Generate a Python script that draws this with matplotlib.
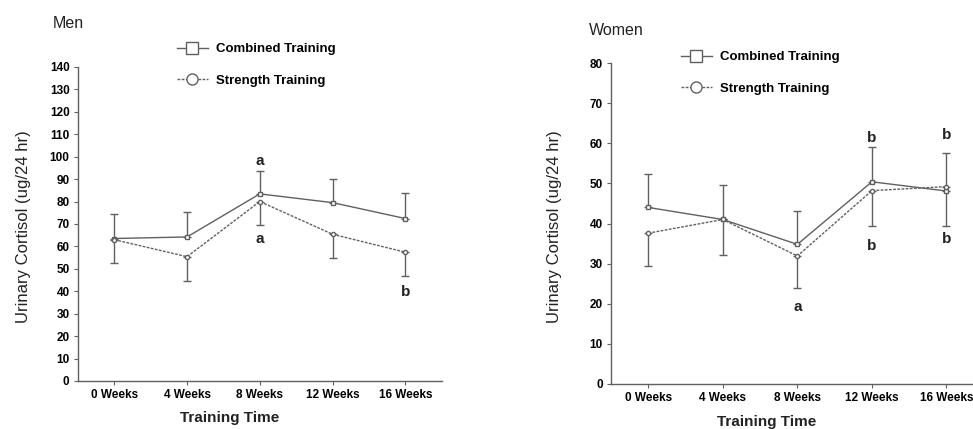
from matplotlib import pyplot as plt
from matplotlib.lines import Line2D
import numpy as np

weeks = ["0 Weeks", "4 Weeks", "8 Weeks", "12 Weeks", "16 Weeks"]

# Men
men_combined = [63.5, 64.2, 83.4, 79.5, 72.4]
men_combined_up = [11.1, 11.2, 10.4, 10.5, 11.4]
men_strength = [63.0, 55.4, 80.0, 65.4, 57.4]
men_strength_down = [10.6, 10.9, 10.3, 10.8, 10.7]
men_letters = [(2, 98, "a"), (2, 63.5, "a"), (4, 39.5, "b")]

# Women
women_combined = [44.0, 41.0, 34.8, 50.4, 48.1]
women_combined_up = [8.4, 8.5, 8.4, 8.6, 9.6]
women_strength = [37.6, 41.0, 31.9, 48.2, 49.2]
women_strength_down = [8.3, 8.8, 8.1, 8.8, 9.8]
women_letters = [(3, 61.3, "b"), (4, 62.1, "b"), (3, 34.5, "b"), (4, 36.2, "b"), (2, 19.3, "a")]

plt.rcParams['font.family'] = ['Liberation Sans', 'DejaVu Sans']
grey = "#606060"

fig = plt.figure(figsize=(9.73, 4.29), dpi=100)
ax1 = fig.add_axes([0.080, 0.112, 0.374, 0.732])
ax2 = fig.add_axes([0.628, 0.105, 0.383, 0.748])


def draw(ax, comb, comb_up, stre, stre_down, letters, ymax, title, title_xy, leg_anchor, ylab_x):
    x = np.arange(len(weeks))
    ax.errorbar(x, comb, yerr=[np.zeros(len(x)), comb_up], color=grey, lw=1.0,
                marker="s", ms=3, mfc="white", mec=grey, capsize=3, elinewidth=1.0)
    ax.errorbar(x, stre, yerr=[stre_down, np.zeros(len(x))], color=grey, lw=1.0, ls=(0, (2, 1)),
                marker="o", ms=3, mfc="white", mec=grey, capsize=3, elinewidth=1.0)
    for xi, yi, s in letters:
        ax.text(xi, yi, s, ha="center", va="center", fontsize=11, fontweight="bold", color="#222222")
    ax.set_xlim(-0.5, 4.5)
    ax.set_ylim(0, ymax)
    ax.set_yticks(np.arange(0, ymax + 1, 10))
    ax.set_xticks(x)
    ax.set_xticklabels(weeks, fontsize=8.5, fontweight="bold")
    for lab in ax.get_yticklabels():
        lab.set_fontsize(8.5)
        lab.set_fontweight("bold")
    ax.tick_params(direction="out", length=3, width=0.8, color=grey, pad=3)
    for side in ["top", "right"]:
        ax.spines[side].set_visible(False)
    for side in ["left", "bottom"]:
        ax.spines[side].set_color(grey)
        ax.spines[side].set_linewidth(1.0)
    ax.set_ylabel("Urinary Cortisol (ug/24 hr)", fontsize=12, color="#222222")
    ax.yaxis.set_label_coords(ylab_x, 0.49)
    ax.set_xlabel("Training Time", fontsize=11, fontweight="bold", color="#222222")
    ax.xaxis.set_label_coords(0.418, -0.097)
    fig.text(title_xy[0], title_xy[1], title, fontsize=11.5, color="#222222", ha="left", va="center")
    handles = [
        Line2D([], [], color=grey, lw=1.0, marker="s", ms=8, mfc="white", mec=grey),
        Line2D([], [], color=grey, lw=1.0, ls=(0, (2, 1)), marker="o", ms=8, mfc="white", mec=grey),
    ]
    ax.legend(handles, ["Combined Training", "Strength Training"], loc="upper left",
              bbox_to_anchor=leg_anchor, bbox_transform=fig.transFigure, frameon=False,
              prop={"size": 9.5, "weight": "bold"}, handlelength=2.4, handletextpad=0.6,
              labelspacing=1.45, borderaxespad=0)


draw(ax1, men_combined, men_combined_up, men_strength, men_strength_down, men_letters,
     140, "Men", (0.054, 0.945), (0.176, 0.912), -0.128)
draw(ax2, women_combined, women_combined_up, women_strength, women_strength_down, women_letters,
     80, "Women", (0.605, 0.930), (0.694, 0.893), -0.132)

fig.savefig("out.png", dpi=100)
